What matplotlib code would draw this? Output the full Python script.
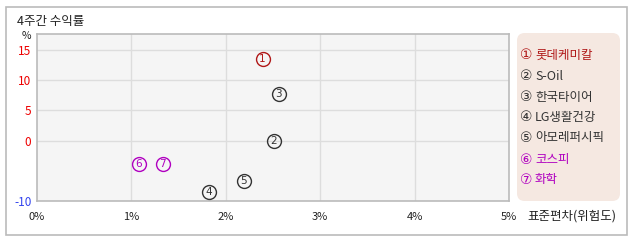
import matplotlib
matplotlib.use("Agg")
import matplotlib.pyplot as plt
from matplotlib.patches import Rectangle, FancyBboxPatch

plt.rcParams['font.family'] = ['Noto Sans CJK KR', 'DejaVu Sans']

names = ['롯데케미칼', 'S-Oil', '한국타이어', 'LG생활건강', '아모레퍼시픽', '코스피', '화학']
marks = ['①', '②', '③', '④', '⑤', '⑥', '⑦']
digits = ['1', '2', '3', '4', '5', '6', '7']
std_dev = [2.39, 2.51, 2.56, 1.82, 2.19, 1.08, 1.33]
returns = [13.5, 0.0, 7.7, -8.5, -6.7, -3.8, -3.8]
colors = ['#B01818', '#333333', '#333333', '#333333', '#333333', '#B000C0', '#B000C0']
xticks = [0, 1, 2, 3, 4, 5]
xlabels = ['0%', '1%', '2%', '3%', '4%', '5%']
yticks = [-10, 0, 5, 10, 15]
ylabels = ['-10', '0', '5', '10', '15']
ycolors = ['#3344EE', '#EE0000', '#EE0000', '#EE0000', '#EE0000']

W, H = 638, 242
fig = plt.figure(figsize=(W / 100, H / 100), dpi=100)

def fx(px):
    return px / W

def fy(py):
    return 1 - py / H

# outer border
fig.patches.append(Rectangle((fx(6), fy(235)), fx(621), (235 - 7) / H,
                             transform=fig.transFigure, fill=False,
                             edgecolor='#BBBBBB', linewidth=1.2))

ax = fig.add_axes([fx(37), fy(201), fx(509 - 37), (201 - 34) / H])
ax.set_facecolor('#F5F5F5')
ax.set_xlim(0, 5)
ax.set_ylim(-10, 17.67)
ax.set_xticks(xticks)
ax.set_xticklabels(xlabels, fontsize=8, color='#222222')
ax.set_yticks(yticks)
ax.set_yticklabels(ylabels, fontsize=8.5)
for t, c in zip(ax.get_yticklabels(), ycolors):
    t.set_color(c)
ax.tick_params(length=0, pad=4)
ax.tick_params(axis='x', pad=8)
for s in ax.spines.values():
    s.set_color('#BBBBBB')
    s.set_linewidth(1.2)
for x in xticks[1:-1]:
    ax.axvline(x, color='#DDDDDD', linewidth=1.0, zorder=0)
for y in [0, 5, 10, 15]:
    ax.axhline(y, color='#DDDDDD', linewidth=1.0, zorder=0)

for x, y, d, c in zip(std_dev, returns, digits, colors):
    ax.plot(x, y, marker='o', markersize=10, markerfacecolor='none',
            markeredgecolor=c, markeredgewidth=1.0, zorder=3)
    ax.text(x, y, d, color=c, fontsize=7.5, ha='center', va='center',
            family='DejaVu Sans', zorder=4)

# title and axis labels
fig.text(fx(17), fy(22), '4주간 수익률', fontsize=9, color='#222222', va='center', ha='left')
fig.text(fx(26), fy(36), '%', fontsize=7.5, color='#222222', va='center', ha='center')
fig.text(fx(527), fy(216), '표준편차(위험도)', fontsize=9, color='#222222', va='center', ha='left')

# legend box
lg = FancyBboxPatch((fx(517), fy(201)), fx(103), (201 - 33) / H,
                    boxstyle='round,pad=0,rounding_size=0.012',
                    transform=fig.transFigure, facecolor='#F5E8E1',
                    edgecolor='none', mutation_aspect=W / H)
fig.patches.append(lg)
ys = [55, 76, 97, 117, 138, 160, 180]
for m, n, c, y in zip(marks, names, colors, ys):
    fig.text(fx(520), fy(y), m, fontsize=10, color=c, va='center', ha='left',
             family=['DejaVu Sans'])
    fig.text(fx(535), fy(y), n, fontsize=9, color=c, va='center', ha='left')

fig.savefig('out.png', dpi=100)
